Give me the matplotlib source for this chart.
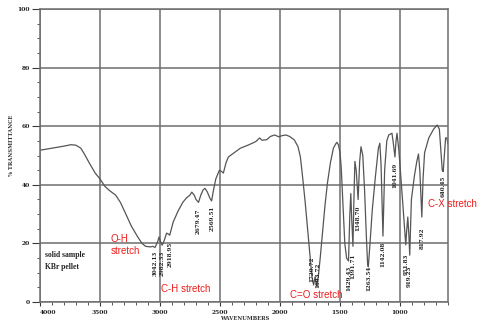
import numpy as np
import matplotlib
matplotlib.use("Agg")
import matplotlib.pyplot as plt

# ---- spectrum trace (wavenumber, % transmittance) ----
wavenumber = [4000, 3900, 3800, 3740, 3700, 3660, 3630, 3590, 3540, 3500,
              3460, 3420, 3370, 3330, 3290, 3240, 3190, 3150, 3120, 3080,
              3060, 3042, 3020, 3008, 2995, 2982, 2965, 2945, 2930, 2919,
              2905, 2890, 2850, 2810, 2780, 2750, 2735, 2715, 2700, 2679,
              2660, 2640, 2625, 2605, 2585, 2570, 2555, 2535, 2505, 2485,
              2472, 2450, 2430, 2380, 2330, 2280, 2230, 2200, 2170, 2150,
              2110, 2080, 2045, 2010, 1980, 1950, 1920, 1880, 1850, 1830,
              1810, 1790, 1770, 1750, 1735, 1720, 1708, 1694, 1680, 1665,
              1645, 1625, 1605, 1580, 1555, 1535, 1525, 1512, 1500, 1490,
              1475, 1460, 1445, 1429, 1418, 1410, 1402, 1392, 1384, 1376,
              1365, 1349, 1336, 1325, 1310, 1295, 1280, 1270, 1264, 1250,
              1231, 1205, 1180, 1168, 1158, 1142, 1128, 1110, 1094, 1067,
              1055, 1042, 1033, 1025, 1010, 997, 975, 960, 952, 945,
              935, 925, 919, 912, 905, 880, 860, 846, 835, 818,
              808, 795, 760, 720, 690, 672, 660, 648, 640, 630,
              620, 610, 600]
transmittance = [51.8, 52.5, 53.2, 53.7, 53.5, 52.5, 50.5, 47.5, 44.0, 42.0,
                 39.5, 38.0, 36.5, 34.0, 30.5, 26.0, 22.5, 20.0, 19.0, 18.8,
                 19.0, 18.6, 20.5, 22.2, 20.5, 19.4, 21.0, 23.5, 23.2, 22.8,
                 25.0, 27.3, 31.0, 34.0, 35.5, 36.5, 37.5, 36.5, 35.0, 34.0,
                 36.5, 38.3, 38.8, 37.5, 35.5, 34.5, 38.0, 42.0, 45.0, 44.5,
                 44.0, 47.5, 49.5, 51.0, 52.5, 53.3, 54.2, 54.8, 56.0, 55.2,
                 55.4, 56.5, 57.0, 56.4, 56.8, 57.0, 56.5, 55.3, 53.0, 49.5,
                 42.0, 34.0, 25.0, 16.0, 9.0, 5.8, 8.5, 5.5, 9.0, 15.0,
                 24.0, 33.0, 40.5, 47.5, 52.5, 54.0, 54.5, 53.5, 51.0, 46.0,
                 33.0, 20.0, 15.0, 14.0, 30.0, 37.0, 28.0, 19.0, 35.0, 48.0,
                 45.0, 35.0, 48.0, 53.0, 50.0, 38.0, 22.0, 13.0, 12.0, 20.0,
                 31.4, 42.8, 52.5, 54.2, 47.0, 22.5, 45.0, 55.0, 57.0, 57.6,
                 54.0, 49.5, 55.0, 57.6, 52.0, 45.0, 32.5, 24.0, 19.5, 24.0,
                 29.0, 22.0, 16.0, 26.0, 35.0, 43.0, 48.0, 50.5, 45.0, 29.0,
                 42.0, 51.0, 56.0, 59.0, 60.4, 59.0, 52.0, 45.0, 44.5, 50.0,
                 56.0, 56.0, 54.0]

# ---- peak annotations ----
peak_wn = [3042.13, 2982.33, 2918.95, 2679.47, 2569.51, 1720.72, 1693.72,
           1429.43, 1391.71, 1348.70, 1263.54, 1142.08, 1041.69, 951.83,
           919.23, 817.92, 640.45]
peak_t = [18.4, 18.6, 21.5, 33.0, 34.0, 16.5, 14.5,
          13.5, 17.5, 34.0, 13.5, 21.5, 48.5, 17.5,
          13.5, 26.5, 44.0]

group_labels = ["O-H\nstretch", "C-H stretch", "C=O stretch", "C-X stretch"]
group_wn = [3410, 2992, 1920, 765]
group_t = [19.5, 4.5, 2.3, 33.5]

ink = "#3a3a3a"
grid_ink = "#6e6e6e"

fig = plt.figure(figsize=(4.85, 3.26), dpi=100)
ax = fig.add_axes([40 / 485, 1 - 302 / 326, 408 / 485, 293 / 326])

ax.plot(wavenumber, transmittance, color="#555555", lw=0.9)

ax.set_xlim(4000, 600)
ax.set_ylim(0, 100)

ax.set_xticks(np.arange(4000, 999, -500))
ax.set_xticks(np.arange(4000, 599, -100), minor=True)
ax.set_yticks(np.arange(0, 101, 20))
ax.set_yticks(np.arange(0, 101, 5), minor=True)

tick_font = dict(family="DejaVu Serif", size=4.3, weight="bold")
xlabels = ax.set_xticklabels([str(v) for v in range(4000, 999, -500)], **tick_font)
xlabels[0].set_horizontalalignment("left")
ax.set_yticklabels([str(v) for v in range(0, 101, 20)], **tick_font)
ax.tick_params(axis="x", which="major", length=3, width=0.8, color=ink,
               pad=3, labelcolor="#222222")
ax.tick_params(axis="x", which="minor", length=2, width=0.6, color=ink)
ax.tick_params(axis="y", which="major", length=6, width=0.8, color=ink,
               pad=1, labelcolor="#222222")
ax.tick_params(axis="y", which="minor", length=2.5, width=0.6, color=ink)

ax.grid(True, which="major", color=grid_ink, lw=1.1)
for side in ["left", "bottom", "top", "right"]:
    ax.spines[side].set_color(grid_ink)
    ax.spines[side].set_linewidth(1.1)

# peak labels below each band; the two C=O labels are spread apart a little
nudge = {1720.72: 13, 1693.72: -11}
for wn, t in zip(peak_wn, peak_t):
    ax.text(wn + nudge.get(wn, 0), t - 1, f"{wn:.2f}", rotation=90,
            ha="center", va="top", family="DejaVu Serif", size=4.1,
            weight="bold", color="#222222")

# red functional-group labels
for lab, wn, t in zip(group_labels, group_wn, group_t):
    ax.text(wn, t, lab, color="#ee1c1c", family="Liberation Sans", size=7,
            ha="left", va="center", linespacing=1.3)

ax.text(3960, 14, "solid sample\nKBr pellet", family="Liberation Serif",
        size=5.5, weight="bold", color="#222222", va="center", ha="left",
        linespacing=1.7)

fig.text(12 / 485, 1 - 145 / 326, "% TRANSMITTANCE", rotation=90,
         ha="center", va="center", family="DejaVu Serif", size=3.8,
         weight="bold", color="#333333")
fig.text(245 / 485, 1 - 319 / 326, "WAVENUMBERS", ha="center", va="center",
         family="DejaVu Serif", size=3.8, weight="bold", color="#333333")

fig.savefig("out.png", dpi=100)
